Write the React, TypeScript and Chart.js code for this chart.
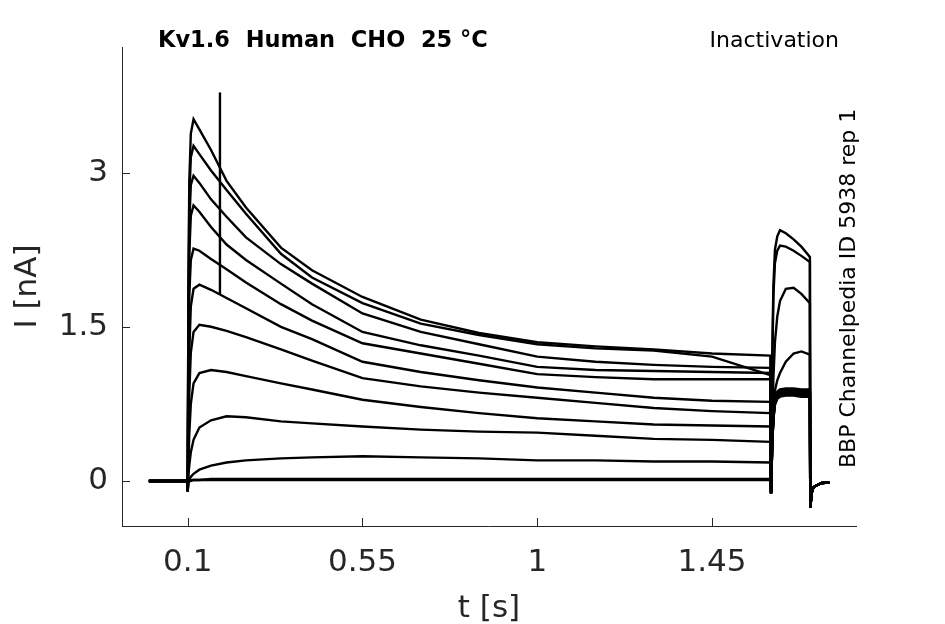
import { useEffect, useRef } from 'react'
import { Chart, registerables } from 'chart.js'

Chart.register(...registerables)

const FONT = "'DejaVu Sans', sans-serif"
const INK = '#262626'

const TITLE = 'Kv1.6  Human  CHO  25 °C'
const PROTOCOL = 'Inactivation'
const SOURCE = 'BBP Channelpedia ID 5938 rep 1'

const X_TICKS = [0.1, 0.55, 1, 1.45]
const Y_TICKS = [0, 1.5, 3]

// prepulse sample times (s)
const PRE_T = [0, 0.099, 0.1, 0.1015, 0.104, 0.108, 0.115, 0.13, 0.16, 0.2, 0.25, 0.34, 0.42, 0.55, 0.7, 0.85, 1.0, 1.15, 1.3, 1.45, 1.6]
// test pulse sample times (s)
const TAIL_T = [1.602, 1.605, 1.608, 1.612, 1.618, 1.625, 1.64, 1.66, 1.68, 1.702]
// after the test pulse, all sweeps overlap
const OFF_T = [1.703, 1.7065, 1.71, 1.715, 1.732, 1.752]
const OFF_I = [-0.26, -0.12, -0.07, -0.05, -0.02, -0.015]

// stray vertical artefact
const ART_T = [0.183, 0.183]
const ART_I = [1.81, 3.78]

// currents (nA), one pair of arrays per sweep
const s1Pre = [0, 0, -0.1, 1.6, 2.9, 3.38, 3.52, 3.42, 3.22, 2.92, 2.66, 2.27, 2.05, 1.79, 1.57, 1.44, 1.35, 1.31, 1.28, 1.24, 1.22]
const s2Pre = [0, 0, -0.1, 1.5, 2.75, 3.15, 3.26, 3.18, 3.02, 2.83, 2.6, 2.21, 1.98, 1.73, 1.53, 1.42, 1.33, 1.29, 1.27, 1.21, 1.03]
const s3Pre = [0, 0, -0.1, 1.3, 2.5, 2.88, 2.97, 2.9, 2.74, 2.57, 2.37, 2.11, 1.92, 1.63, 1.45, 1.33, 1.21, 1.16, 1.13, 1.11, 1.1]
const s4Pre = [0, 0, -0.1, 1.1, 2.2, 2.58, 2.68, 2.62, 2.47, 2.3, 2.15, 1.92, 1.72, 1.45, 1.32, 1.22, 1.11, 1.08, 1.07, 1.06, 1.05]
const s5Pre = [0, 0, -0.1, 0.9, 1.8, 2.15, 2.26, 2.24, 2.16, 2.06, 1.93, 1.72, 1.56, 1.34, 1.24, 1.14, 1.04, 1.01, 0.99, 0.99, 0.99]
const s6Pre = [0, 0, -0.1, 0.5, 1.25, 1.7, 1.87, 1.91, 1.86, 1.78, 1.68, 1.5, 1.38, 1.16, 1.06, 0.98, 0.91, 0.86, 0.81, 0.78, 0.77]
const s7Pre = [0, 0, -0.1, 0.3, 0.85, 1.25, 1.45, 1.52, 1.5, 1.46, 1.4, 1.28, 1.17, 1.0, 0.92, 0.86, 0.81, 0.76, 0.71, 0.68, 0.66]
const s8Pre = [0, 0, -0.1, 0.15, 0.45, 0.75, 0.95, 1.05, 1.08, 1.06, 1.02, 0.95, 0.89, 0.79, 0.72, 0.66, 0.61, 0.58, 0.55, 0.54, 0.53]
const s9Pre = [0, 0, -0.1, 0.05, 0.15, 0.28, 0.4, 0.52, 0.59, 0.63, 0.62, 0.58, 0.56, 0.53, 0.5, 0.48, 0.47, 0.44, 0.41, 0.4, 0.38]
const s10Pre = [0, 0, -0.1, 0, 0.02, 0.04, 0.07, 0.11, 0.15, 0.18, 0.2, 0.22, 0.23, 0.24, 0.23, 0.22, 0.2, 0.2, 0.19, 0.19, 0.18]
const s11Pre = [0, 0, -0.1, -0.02, 0, 0.01, 0.01, 0.01, 0.02, 0.02, 0.02, 0.02, 0.02, 0.02, 0.02, 0.02, 0.02, 0.02, 0.02, 0.02, 0.02]
const s12Pre = [0, 0, -0.1, -0.02, 0, 0, 0.01, 0.01, 0.01, 0.01, 0.01, 0.01, 0.01, 0.01, 0.01, 0.01, 0.01, 0.01, 0.01, 0.01, 0.01]

const s1Tail = [-0.12, 0.35, 0.6, 0.74, 0.8, 0.82, 0.83, 0.83, 0.82, 0.82]
const s2Tail = [-0.12, 0.35, 0.6, 0.75, 0.81, 0.83, 0.84, 0.84, 0.83, 0.83]
const s3Tail = [-0.12, 0.36, 0.61, 0.76, 0.82, 0.84, 0.85, 0.85, 0.84, 0.84]
const s4Tail = [-0.12, 0.36, 0.62, 0.77, 0.83, 0.85, 0.86, 0.86, 0.85, 0.85]
const s5Tail = [-0.12, 0.37, 0.63, 0.78, 0.84, 0.86, 0.87, 0.87, 0.86, 0.86]
const s6Tail = [-0.12, 0.37, 0.64, 0.79, 0.85, 0.87, 0.88, 0.88, 0.87, 0.87]
const s7Tail = [-0.12, 0.38, 0.65, 0.8, 0.86, 0.88, 0.89, 0.89, 0.88, 0.88]
const s8Tail = [-0.12, 0.38, 0.66, 0.81, 0.87, 0.89, 0.9, 0.9, 0.89, 0.89]
const s9Tail = [-0.12, 0.4, 0.7, 0.88, 0.98, 1.05, 1.16, 1.24, 1.26, 1.23]
const s10Tail = [-0.12, 0.5, 1.0, 1.35, 1.6, 1.75, 1.87, 1.88, 1.82, 1.73]
const s11Tail = [-0.12, 1.2, 1.9, 2.25, 2.38, 2.44, 2.41, 2.35, 2.28, 2.18]
const s12Tail = [-0.12, 1.1, 1.8, 2.12, 2.24, 2.29, 2.28, 2.24, 2.19, 2.13]

const SWEEPS = [
  [s1Pre, s1Tail], [s2Pre, s2Tail], [s3Pre, s3Tail], [s4Pre, s4Tail],
  [s5Pre, s5Tail], [s6Pre, s6Tail], [s7Pre, s7Tail], [s8Pre, s8Tail],
  [s9Pre, s9Tail], [s10Pre, s10Tail], [s11Pre, s11Tail], [s12Pre, s12Tail],
]

function zip(t: number[], v: number[]) {
  return t.map((x, i) => ({ x, y: v[i] }))
}

// inward tick marks + the free texts around the axes
const decorations = {
  id: 'decorations',
  afterDraw(chart: any) {
    const { ctx, chartArea, scales } = chart
    ctx.save()
    ctx.strokeStyle = INK
    ctx.lineWidth = 1
    ctx.beginPath()
    X_TICKS.forEach(v => {
      const px = Math.round(scales.x.getPixelForValue(v)) + 0.5
      ctx.moveTo(px, chartArea.bottom)
      ctx.lineTo(px, chartArea.bottom - 8)
    })
    Y_TICKS.forEach(v => {
      const py = Math.round(scales.y.getPixelForValue(v)) + 0.5
      ctx.moveTo(chartArea.left, py)
      ctx.lineTo(chartArea.left + 8, py)
    })
    ctx.stroke()

    ctx.fillStyle = '#000'
    ctx.textBaseline = 'alphabetic'
    ctx.font = `bold 22.5px ${FONT}`
    ctx.textAlign = 'left'
    ctx.fillText(TITLE, 158, 47)
    ctx.font = `22px ${FONT}`
    ctx.textAlign = 'right'
    ctx.fillText(PROTOCOL, 839, 47)

    ctx.font = `22px ${FONT}`
    ctx.textAlign = 'left'
    ctx.translate(855, 468)
    ctx.rotate(-Math.PI / 2)
    ctx.fillText(SOURCE, 0, 0)
    ctx.restore()
  },
}

export default function App() {
  const canvasRef = useRef<HTMLCanvasElement>(null)

  useEffect(() => {
    if (!canvasRef.current) return
    const datasets: any[] = SWEEPS.map(([pre, tail], i) => ({
      label: `sweep ${i + 1}`,
      data: [...zip(PRE_T, pre), ...zip(TAIL_T, tail), ...zip(OFF_T, OFF_I)],
    }))
    datasets.push({ label: 'artefact', data: zip(ART_T, ART_I) })

    const tickFont = { family: FONT, size: 31 }
    const chart = new Chart(canvasRef.current, {
      type: 'line',
      data: { datasets },
      options: {
        animation: false,
        responsive: false,
        events: [],
        layout: { padding: { top: 47, right: 89, left: 0, bottom: 0 } },
        plugins: { legend: { display: false }, tooltip: { enabled: false } },
        elements: {
          point: { radius: 0 },
          line: { borderWidth: 2.4, borderColor: '#000', tension: 0, fill: false },
        },
        scales: {
          x: {
            type: 'linear',
            min: -0.0692,
            max: 1.8207,
            grid: { display: false, drawTicks: false },
            border: { color: INK, width: 1 },
            afterBuildTicks: (s: any) => { s.ticks = X_TICKS.map(value => ({ value })) },
            afterFit: (s: any) => { s.height = 98 },
            ticks: { padding: 18, color: INK, font: tickFont, autoSkip: false, maxRotation: 0, callback: (v: any) => String(v) },
            title: { display: true, text: 't [s]', color: INK, font: { family: FONT, size: 31, lineHeight: 1 }, padding: 0 },
          },
          y: {
            type: 'linear',
            min: -0.438,
            max: 4.222,
            grid: { display: false, drawTicks: false },
            border: { color: INK, width: 1 },
            afterBuildTicks: (s: any) => { s.ticks = Y_TICKS.map(value => ({ value })) },
            afterFit: (s: any) => { s.width = 122 },
            ticks: { padding: 14, color: INK, font: tickFont, autoSkip: false, callback: (v: any) => String(v) },
            title: { display: true, text: 'I [nA]', color: INK, font: { family: FONT, size: 31, lineHeight: 1 }, padding: { top: 12, bottom: 0 } },
          },
        },
      },
      plugins: [decorations],
    })
    return () => { chart.destroy() }
  }, [])

  return (
    <div style={{ position: 'absolute', left: 0, top: 0, width: 945, height: 624, background: '#fff' }}>
      <canvas ref={canvasRef} width={945} height={624} style={{ width: 945, height: 624 }} />
    </div>
  )
}
